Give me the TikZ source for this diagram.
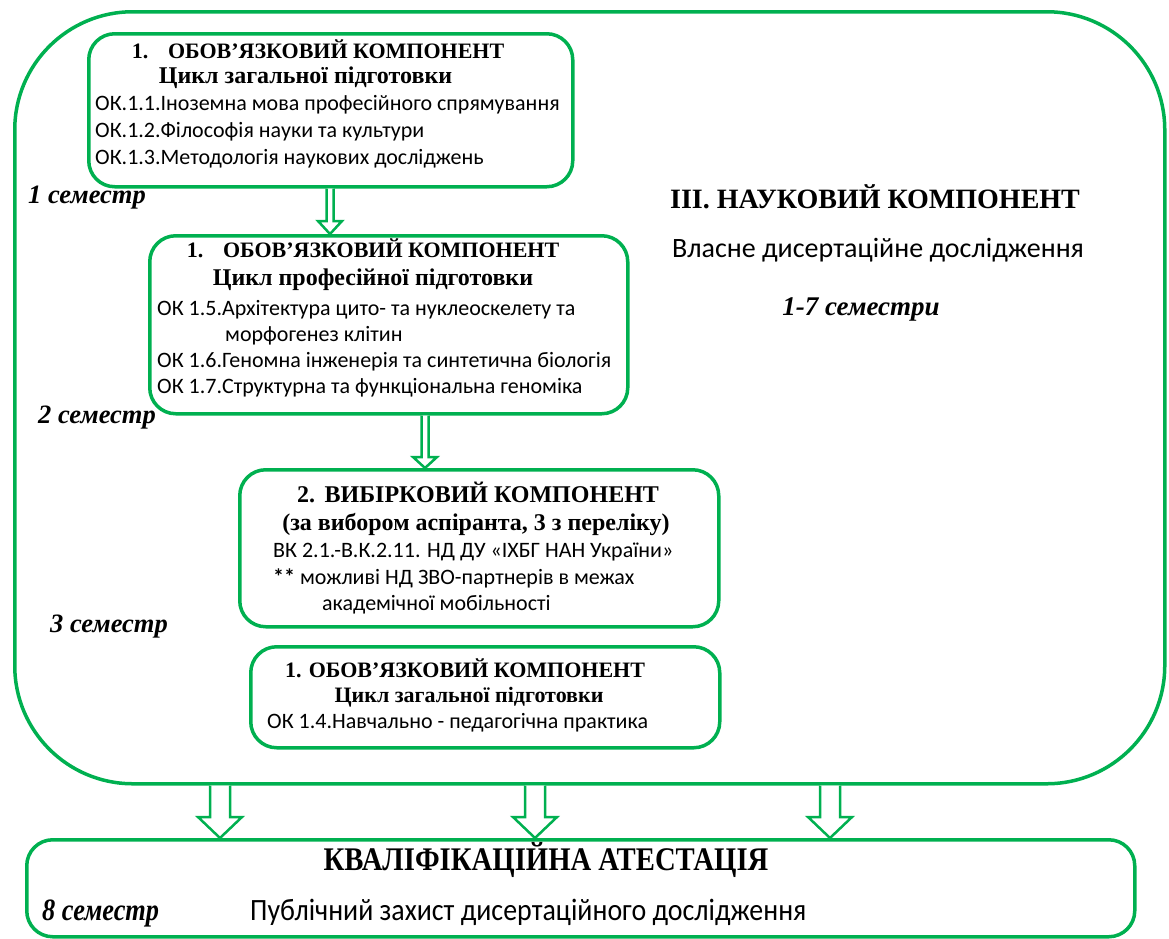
\documentclass[tikz,border=0pt]{standalone}
\usepackage{fontspec}
\setmainfont{Liberation Serif}
\newfontfamily\carlito{Carlito}
\newfontfamily\condserif[FakeStretch=0.87]{Liberation Serif}
\newfontfamily\condserifit[FakeStretch=0.85]{Liberation Serif}
\newfontfamily\condsans[FakeStretch=0.9]{Carlito}
\usetikzlibrary{calc}
\definecolor{grn}{RGB}{0,176,80}
\newcommand\hollowarrow[5]{%
  \draw[arrline] let \p1=(#1), \p2=(#2) in
    (\x1-#3,\y1) -- (\x1-#3,\y2+#5) -- (\x1-#4,\y2+#5) -- (\x1,\y2)
    -- (\x1+#4,\y2+#5) -- (\x1+#3,\y2+#5) -- (\x1+#3,\y1);}
\begin{document}
\begin{tikzpicture}[x=1pt,y=-1pt,
  box/.style={draw=grn, line width=3.5pt, rounded corners=26pt, inner sep=0pt, anchor=north west},
  arrline/.style={draw=grn, line width=2.5pt, fill=white, line join=miter},
  head/.style={font=\bfseries\fontsize{22}{24}\selectfont, inner sep=0pt, anchor=base},
  sub/.style={font=\bfseries\fontsize{24}{26}\selectfont, inner sep=0pt, anchor=base},
  item/.style={font=\carlito\fontsize{22}{24}\selectfont, inner sep=0pt, anchor=base west},
  sem/.style={font=\bfseries\itshape\fontsize{26.5}{28}\selectfont, inner sep=0pt, anchor=base west}]
\useasboundingbox (0,0) rectangle (1169,938);

% outer scientific component
\node[box, rounded corners=118pt, minimum width=1150pt, minimum height=772pt] (sci) at (13,10) {};

% boxes
\node[box, minimum width=484pt, minimum height=153pt] (b1) at (87,32) {};
\node[box, minimum width=478pt, minimum height=178pt] (b2) at (148,234) {};
\node[box, minimum width=479pt, minimum height=157pt] (b3) at (238,468) {};
\node[box, minimum width=469pt, minimum height=101pt] (b4) at (249,645) {};
\node[box, minimum width=1108pt, minimum height=97pt] (att) at (25,838) {};

% box 1 text
\node[head] (b1h) at (318,58) {1.\hspace{0.9em}ОБОВ’ЯЗКОВИЙ КОМПОНЕНТ};
\node[sub] (b1s) at (305.5,83) {Цикл загальної підготовки};
\node[item] (b1a) at (95,110) {ОК.1.1.Іноземна мова професійного спрямування};
\node[item] (b1b) at (95,137) {ОК.1.2.Філософія науки та культури};
\node[item] (b1c) at (95,164) {ОК.1.3.Методологія наукових досліджень};

% box 2 text
\node[head] (b2h) at (373,257) {1.\hspace{0.9em}ОБОВ’ЯЗКОВИЙ КОМПОНЕНТ};
\node[sub] (b2s) at (373,285) {Цикл професійної підготовки};
\node[item] (b2a) at (157,315) {ОК 1.5.Архітектура цито- та нуклеоскелету та};
\node[item] (b2b) at (225,341) {морфогенез клітин};
\node[item] (b2c) at (157,367) {ОК 1.6.Геномна інженерія та синтетична біологія};
\node[item] (b2d) at (157,393) {ОК 1.7.Структурна та функціональна геноміка};

% box 3 text
\node[head, font=\bfseries\fontsize{24}{26}\selectfont] (b3h) at (478,502) {2.\hspace{0.4em}ВИБІРКОВИЙ КОМПОНЕНТ};
\node[sub] (b3s) at (476,530) {(за вибором аспіранта, 3 з переліку)};
\node[item] (b3a) at (273,557) {ВК 2.1.-В.К.2.11. НД ДУ «ІХБГ НАН України»};
\node[item] (b3b) at (273,584) {\textbf{**} можливі НД ЗВО-партнерів в межах};
\node[item] (b3c) at (322,610) {академічної мобільності};

% box 4 text
\node[head] (b4h) at (465,677) {1. ОБОВ’ЯЗКОВИЙ КОМПОНЕНТ};
\node[sub, font=\bfseries\fontsize{22}{24}\selectfont] (b4s) at (469,702) {Цикл загальної підготовки};
\node[item] (b4a) at (267,728) {ОК 1.4.Навчально - педагогічна практика};

% scientific component text
\node[head, font=\bfseries\fontsize{28}{30}\selectfont] (scih) at (875,208) {ІІІ. НАУКОВИЙ КОМПОНЕНТ};
\node[item, anchor=base, font=\carlito\fontsize{28}{30}\selectfont] (scis) at (878,257) {Власне дисертаційне дослідження};
\node[sem, anchor=base, font=\bfseries\itshape\fontsize{27}{29}\selectfont] (scisem) at (861,315) {1-7 семестри};

% semester labels
\node[sem] (s1) at (28,203) {1 семестр};
\node[sem] (s2) at (38,423) {2 семестр};
\node[sem] (s3) at (50,632) {3 семестр};

% attestation text
\node[head, font=\condserif\bfseries\fontsize{33}{35}\selectfont] (atth) at (546,870) {КВАЛІФІКАЦІЙНА АТЕСТАЦІЯ};
\node[item, font=\condsans\fontsize{31}{33}\selectfont] (atts) at (250,920) {Публічний захист дисертаційного дослідження};
\node[sem, font=\condserifit\bfseries\itshape\fontsize{31}{33}\selectfont] (s8) at (42,920) {8 семестр};

% arrows between boxes
\coordinate (ax1) at (330,0);
\coordinate (ax2) at (425,0);
\hollowarrow{b1.south -| ax1}{b2.north -| ax1}{3.5pt}{12pt}{13pt}
\hollowarrow{b2.south -| ax2}{b3.north -| ax2}{3.5pt}{12pt}{11pt}

% arrows to attestation
\coordinate (bx1) at (220,0);
\coordinate (bx2) at (535,0);
\coordinate (bx3) at (830,0);
\hollowarrow{sci.south -| bx1}{att.north -| bx1}{10pt}{22pt}{21pt}
\hollowarrow{sci.south -| bx2}{att.north -| bx2}{10pt}{22pt}{21pt}
\hollowarrow{sci.south -| bx3}{att.north -| bx3}{10pt}{22pt}{21pt}
\end{tikzpicture}
\end{document}
